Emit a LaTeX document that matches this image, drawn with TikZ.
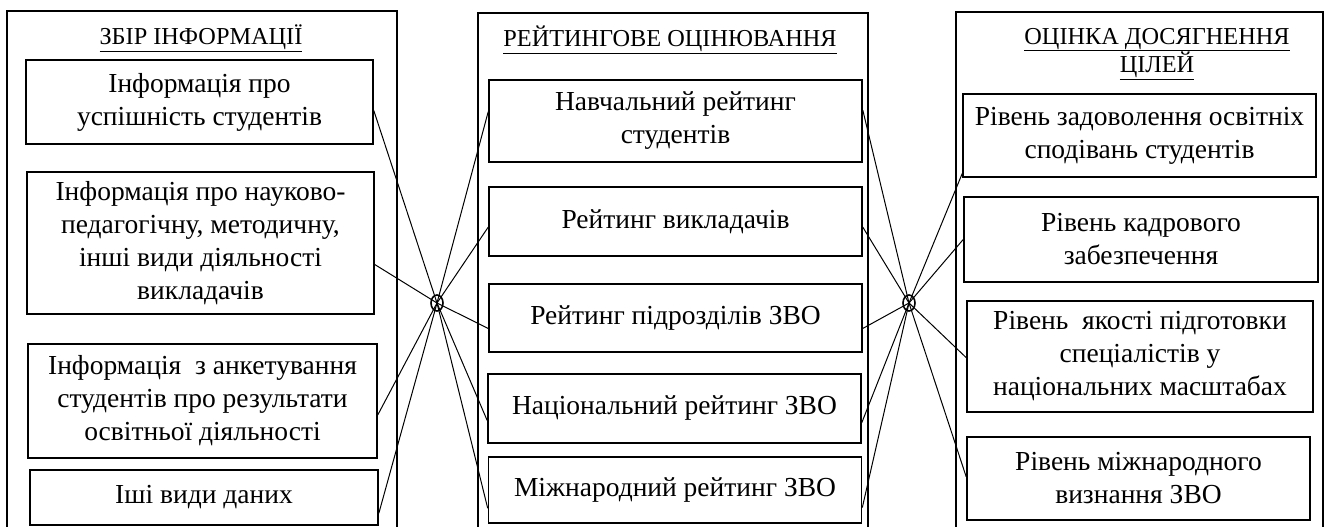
\documentclass[tikz,border=0pt]{standalone}
\usepackage{fontspec}
\setmainfont{Liberation Serif}
\usetikzlibrary{shapes.geometric,calc}

\tikzset{
 colbox/.style={draw, line width=1.6pt, inner sep=0pt},
 coltitle/.style={align=center, inner sep=0pt, font=\fontsize{24.3}{24.5}\selectfont},
 itembox/.style={draw, line width=1.6pt, align=center, inner sep=0pt, font=\fontsize{27.5}{33}\selectfont},
 hub/.style={draw, ellipse, line width=1.6pt, minimum width=12pt, minimum height=16pt, inner sep=0pt},
 link/.style={line width=1pt}
}

\begin{document}
\begin{tikzpicture}[x=1pt,y=-1pt]
 \useasboundingbox (0,0) rectangle (1328,527);

 \node[colbox, minimum width=390, minimum height=549] (colL) at (202,285.5) {};
 \node[colbox, minimum width=390, minimum height=547] (colC) at (673,286.5) {};
 \node[colbox, minimum width=367, minimum height=548] (colR) at (1139.5,286) {};

 \node[coltitle] (tL) at (201,38) {\underline{ЗБІР ІНФОРМАЦІЇ}};
 \node[coltitle] (tC) at (670,40) {\underline{РЕЙТИНГОВЕ ОЦІНЮВАННЯ}};
 \node[coltitle] (tR) at (1157,54) {\underline{ОЦІНКА ДОСЯГНЕННЯ}\\\underline{ЦІЛЕЙ}};

 \node[itembox, minimum width=347, minimum height=84] (L1) at (199.5,102) {Інформація про\\успішність студентів};
 \node[itembox, minimum width=347, minimum height=142] (L2) at (200.5,243) {Інформація про науково-\\педагогічну, методичну,\\інші види діяльності\\викладачів};
 \node[itembox, minimum width=349, minimum height=114] (L3) at (202.5,401) {Інформація~ з анкетування\\студентів про результати\\освітньої діяльності};
 \node[itembox, minimum width=348, minimum height=55] (L4) at (204,497.5) {Іші види даних};

 \node[itembox, minimum width=373, minimum height=82] (C1) at (675.5,121) {Навчальний рейтинг\\студентів};
 \node[itembox, minimum width=373, minimum height=69] (C2) at (675.5,221.5) {Рейтинг викладачів};
 \node[itembox, minimum width=373, minimum height=68] (C3) at (675.5,318) {Рейтинг підрозділів ЗВО};
 \node[itembox, minimum width=373, minimum height=69] (C4) at (674.5,408.5) {Національний рейтинг ЗВО};
 \node[itembox, minimum width=373, minimum height=66] (C5) at (675,490) {Міжнародний рейтинг ЗВО};

 \node[itembox, minimum width=353, minimum height=83] (R1) at (1139.5,135.5) {Рівень задоволення освітніх\\сподівань студентів};
 \node[itembox, minimum width=354, minimum height=85] (R2) at (1141,239.5) {Рівень кадрового\\забезпечення};
 \node[itembox, minimum width=346, minimum height=111] (R3) at (1140,356.5) {Рівень~ якості підготовки\\спеціалістів у\\національних масштабах};
 \node[itembox, minimum width=343, minimum height=83] (R4) at (1138.5,478.5) {Рівень міжнародного\\визнання ЗВО};

 \node[hub] (hubL) at (437,303) {};
 \node[hub] (hubR) at (909,303) {};

 \draw[link] (hubL.center) -- ($(L1.north east)!0.6!(L1.south east)$);
 \draw[link] (hubL.center) -- ($(L2.north east)!0.65!(L2.south east)$);
 \draw[link] (hubL.center) -- ($(L3.north east)!0.62!(L3.south east)$);
 \draw[link] (hubL.center) -- ($(L4.north east)!0.78!(L4.south east)$);
 \draw[link] (hubL.center) -- ($(C1.north west)!0.39!(C1.south west)$);
 \draw[link] (hubL.center) -- ($(C2.north west)!0.58!(C2.south west)$);
 \draw[link] (hubL.center) -- ($(C3.north west)!0.65!(C3.south west)$);
 \draw[link] (hubL.center) -- ($(C4.north west)!0.67!(C4.south west)$);
 \draw[link] (hubL.center) -- ($(C5.north west)!0.77!(C5.south west)$);

 \draw[link] (hubR.center) -- ($(C1.north east)!0.37!(C1.south east)$);
 \draw[link] (hubR.center) -- ($(C2.north east)!0.58!(C2.south east)$);
 \draw[link] (hubR.center) -- ($(C3.north east)!0.65!(C3.south east)$);
 \draw[link] (hubR.center) -- ($(C4.north east)!0.7!(C4.south east)$);
 \draw[link] (hubR.center) -- ($(C5.north east)!0.76!(C5.south east)$);
 \draw[link] (hubR.center) -- ($(R1.north west)!0.95!(R1.south west)$);
 \draw[link] (hubR.center) -- ($(R2.north west)!0.5!(R2.south west)$);
 \draw[link] (hubR.center) -- ($(R3.north west)!0.51!(R3.south west)$);
 \draw[link] (hubR.center) -- ($(R4.north west)!0.48!(R4.south west)$);
\end{tikzpicture}
\end{document}
